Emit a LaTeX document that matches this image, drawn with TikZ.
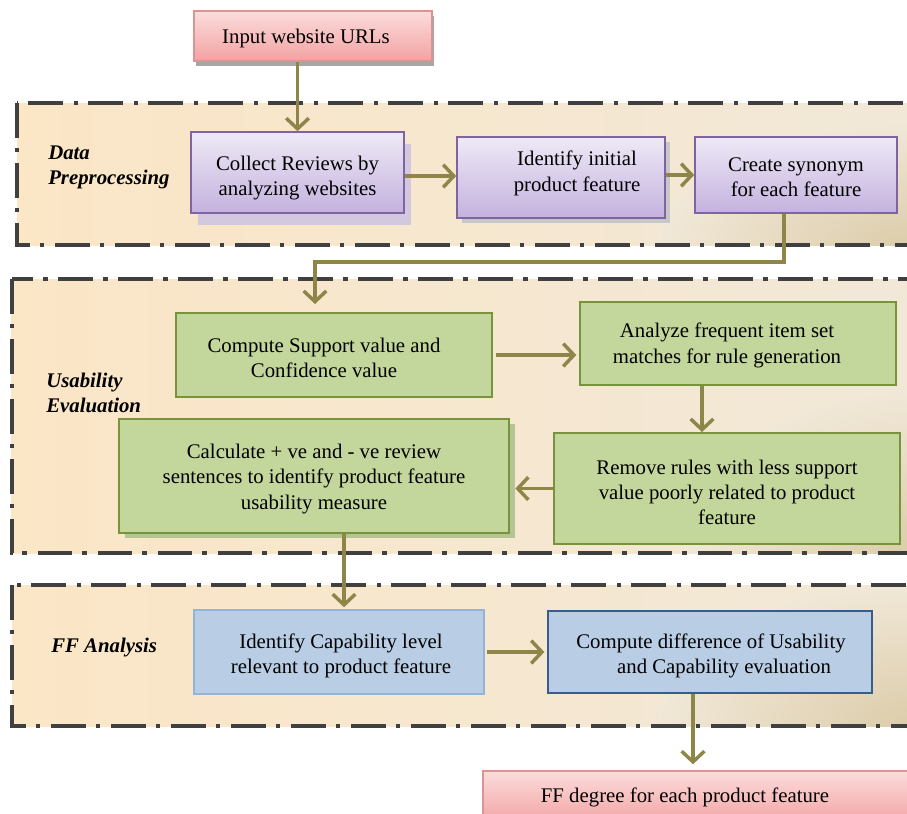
\documentclass[tikz,border=0pt]{standalone}
\usepackage{fontspec}
\setmainfont{Liberation Serif}
\usetikzlibrary{arrows.meta,shadows}
\newdimen\px \px=0.75pt
\newcommand\boxfont{\fontsize{15.6}{19}\selectfont}
\newcommand\lblfont{\fontsize{15.6}{18.75}\selectfont\bfseries\itshape}
\definecolor{pinkt}{HTML}{FCDCDC}
\definecolor{pinkbot}{HTML}{F2A2A2}
\definecolor{pinkb}{HTML}{D99594}
\definecolor{purpt}{HTML}{EEE9F6}
\definecolor{purpbot}{HTML}{C4B2DE}
\definecolor{purpb}{HTML}{8064A2}
\definecolor{greenf}{HTML}{C3D69B}
\definecolor{greenb}{HTML}{77933C}
\definecolor{bluef}{HTML}{B9CDE5}
\definecolor{bluelb}{HTML}{95B3D7}
\definecolor{bluedb}{HTML}{385D8A}
\definecolor{framec}{HTML}{404040}
\definecolor{framel}{HTML}{FBE6C6}
\definecolor{framer}{HTML}{F1E8D8}
\definecolor{tanc}{HTML}{DBCBA8}
\definecolor{arrowc}{HTML}{8E8549}
\tikzset{
  box/.style={rectangle, inner sep=0pt},
  txt/.style={align=center, inner sep=0pt, font=\boxfont, text=black},
  pinkbox/.style={box, draw=pinkb, line width=1.1pt, top color=pinkt, bottom color=pinkbot},
  purplebox/.style={box, draw=purpb, line width=1.2pt, top color=purpt, bottom color=purpbot},
  greenbox/.style={box, draw=greenb, line width=1.5pt, fill=greenf},
  bluebox/.style={box, fill=bluef, line width=1.2pt},
  framefill/.style={left color=framel, right color=framer},
  frameline/.style={draw=framec, line width=3pt, dash pattern=on 26pt off 7.5pt on 3.5pt off 8pt},
  flow/.style={draw=arrowc, line width=2.6pt, -{Straight Barb[length=8pt, width=17pt]}},
  lbl/.style={font=\lblfont, align=left, anchor=west, inner sep=0pt},
}
\begin{document}
\begin{tikzpicture}[x=0.75pt, y=-0.75pt]
\useasboundingbox (0,0) rectangle (907,814);
\clip (0,0) rectangle (907,814);
% frames: fill, tan corner, outline
\path[framefill] (17,103) rectangle (918,245);
\path[framefill] (11.5,279) rectangle (918,553);
\path[framefill] (12,585) rectangle (918,726);
\begin{scope}
  \clip (17,103) rectangle (918,245);
  \shade[inner color=tanc, outer color=framer] (915,252) ellipse (260 and 130);
\end{scope}
\begin{scope}
  \clip (11.5,279) rectangle (918,553);
  \shade[inner color=tanc, outer color=framer] (915,560) ellipse (230 and 170);
\end{scope}
\begin{scope}
  \clip (12,585) rectangle (918,726);
  \shade[inner color=tanc, outer color=framer] (915,732) ellipse (260 and 150);
\end{scope}
\draw[frameline] (17,103) rectangle (918,245);
\draw[frameline] (11.5,279) rectangle (918,553);
\draw[frameline] (12,585) rectangle (918,726);
% section labels
\node[lbl] (ldp) at (48,167.5) {Data\\Preprocessing};
\node[lbl] (lue) at (46,392.5) {Usability\\Evaluation};
\node[lbl] (lff) at (51,648) {FF Analysis};
% boxes
\node[pinkbox, minimum width=238\px, minimum height=50\px,
  drop shadow={shadow xshift=1.5pt, shadow yshift=-4pt, fill=black!35, opacity=1}]
  (inp) at (313,36) {};
\node[purplebox, minimum width=213\px, minimum height=81\px,
  drop shadow={shadow xshift=5pt, shadow yshift=-9pt, fill=purpb!35!white, opacity=1}]
  (col) at (297.5,172.5) {};
\node[purplebox, minimum width=208\px, minimum height=81\px,
  drop shadow={shadow xshift=3.5pt, shadow yshift=-3.5pt, fill=black!22, opacity=1}]
  (ini) at (561,177.5) {};
\node[purplebox, minimum width=202\px, minimum height=76\px] (syn) at (796,175) {};
\node[greenbox, minimum width=316\px, minimum height=84\px] (sup) at (334,355) {};
\node[greenbox, minimum width=316\px, minimum height=83\px] (ana) at (738,343.5) {};
\node[greenbox, minimum width=346\px, minimum height=111\px] (rem) at (727,488.5) {};
\node[greenbox, minimum width=390\px, minimum height=114\px,
  drop shadow={shadow xshift=4.5pt, shadow yshift=-4pt, fill=greenb!55!white, opacity=1}]
  (cal) at (314,476) {};
\node[bluebox, draw=bluelb, minimum width=290\px, minimum height=84\px] (cap) at (339,652) {};
\node[bluebox, draw=bluedb, line width=1.5pt, minimum width=324\px, minimum height=82\px] (dif) at (710,652) {};
\node[pinkbox, minimum width=442\px, minimum height=54\px] (ff) at (704,798) {};
% box texts
\node[txt] (tinp) at (306,38) {Input website URLs};
\node[txt] (tcol) at (297.5,178) {Collect Reviews by\\analyzing websites};
\node[txt] (tini) at (577,173.5) {Identify initial\\product feature};
\node[txt] (tsyn) at (796,177.5) {Create synonym\\for each feature};
\node[txt] (tsup) at (324,358) {Compute Support value and\\Confidence value};
\node[txt] (tana) at (727,345.5) {Analyze frequent item set\\matches for rule generation};
\node[txt] (trem) at (727,492.5) {Remove rules with less support\\value poorly related to product\\feature};
\node[txt] (tcal) at (314,479) {Calculate + ve and - ve review\\sentences to identify product feature\\usability measure};
\node[txt] (tcap) at (341,656) {Identify Capability level\\relevant to product feature};
\node[txt] (tdif) at (711,656) {Compute difference of Usability\\\hspace*{26\px}and Capability evaluation};
\node[txt] (tff) at (685,797) {FF degree for each product feature};
% connector helpers
\coordinate (r1) at (0,176);
\coordinate (k1) at (784,262);
\coordinate (k2) at (315,262);
\coordinate (k3) at (702,0);
\coordinate (k4) at (344,0);
\coordinate (k5) at (693,0);
% connectors
\draw[flow] (inp.south -| col.north) -- (col.north);
\draw[flow] (col.east |- r1) -- (ini.west |- r1);
\draw[flow] (ini.east |- syn.west) -- (syn.west);
\draw[flow, shorten >=6pt] (syn.south -| k1) -- (k1) -- (k2) -- (k2 |- sup.north);
\draw[flow, shorten <=2pt, shorten >=2pt] (sup.east) -- (sup.east -| ana.west);
\draw[flow] (ana.south -| k3) -- (rem.north -| k3);
\draw[flow, shorten >=4pt] (rem.west) -- (rem.west -| cal.east);
\draw[flow, shorten >=1.5pt] (cal.south -| k4) -- (cap.north -| k4);
\draw[flow, shorten <=2pt, shorten >=2pt] (cap.east) -- (cap.east -| dif.west);
\draw[flow, shorten >=4.5pt] (dif.south -| k5) -- (ff.north -| k5);
\end{tikzpicture}
\end{document}
